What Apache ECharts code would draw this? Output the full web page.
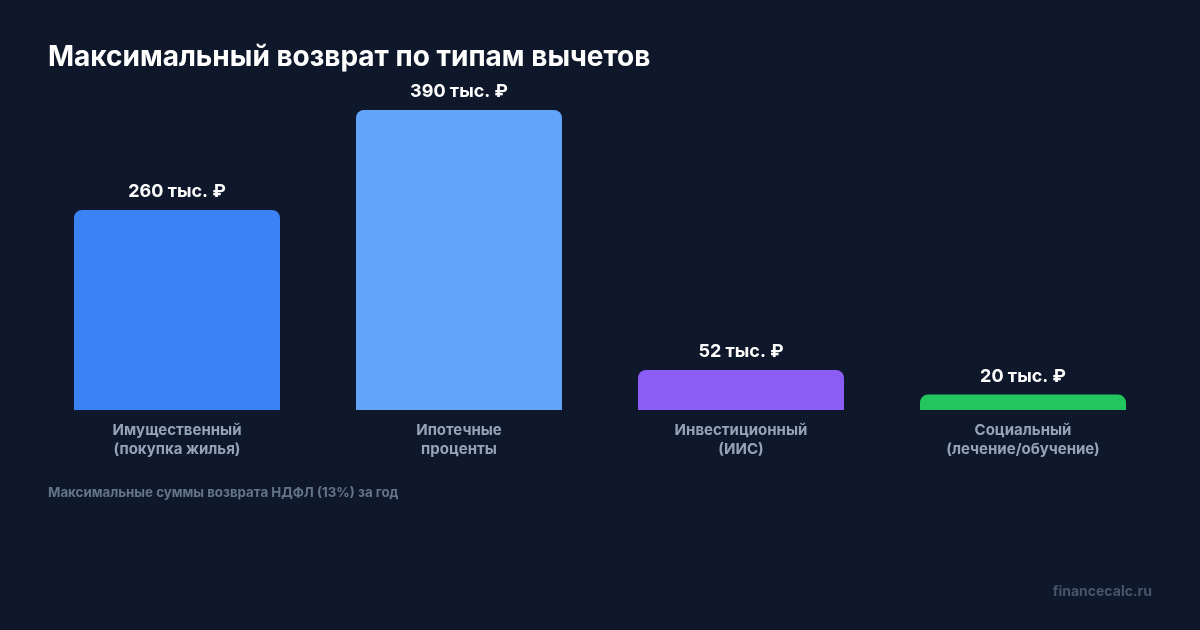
<!DOCTYPE html>
<html><head><meta charset="utf-8">
<script src="https://cdn.jsdelivr.net/npm/echarts@6/dist/echarts.min.js"></script>
<style>html,body{margin:0;padding:0;background:#0f172a}#c{width:1200px;height:630px}</style>
</head><body><div id="c"></div>
<script>
const categories = ['Имущественный\n(покупка жилья)', 'Ипотечные\nпроценты', 'Инвестиционный\n(ИИС)', 'Социальный\n(лечение/обучение)'];
const values = [260, 390, 52, 20];
const valueLabels = ['260 тыс. ₽', '390 тыс. ₽', '52 тыс. ₽', '20 тыс. ₽'];
const colors = ['#3b82f6', '#60a5fa', '#8b5cf6', '#22c55e'];

const chart = echarts.init(document.getElementById('c'), null, {renderer: 'canvas'});
chart.setOption({
  backgroundColor: '#0f172a',
  textStyle: {fontFamily: 'Inter'},
  title: [
    {text: 'Максимальный возврат по типам вычетов', left: 43, top: 39,
     textStyle: {color: '#ffffff', fontSize: 28, fontWeight: 'bold', fontFamily: 'Inter'}},
    {text: 'Максимальные суммы возврата НДФЛ (13%) за год', left: 43, top: 481,
     textStyle: {color: '#64748b', fontSize: 13.3, fontWeight: 'bold', fontFamily: 'Inter'}},
    {text: 'financecalc.ru', right: 43, top: 580,
     textStyle: {color: '#475569', fontSize: 14, fontWeight: 'bold', fontFamily: 'Inter'}}
  ],
  grid: {left: 36, right: 36, top: 110, bottom: 220},
  xAxis: {
    type: 'category', data: categories,
    axisLine: {show: false}, axisTick: {show: false},
    axisLabel: {color: '#94a3b8', fontSize: 15, fontWeight: 'bold', lineHeight: 19, margin: 11, fontFamily: 'Inter'}
  },
  yAxis: {type: 'value', min: 0, max: 390, show: false, splitLine: {show: false}},
  series: [{
    type: 'bar', barWidth: 206,
    data: values.map((v, i) => ({value: v, itemStyle: {color: colors[i], borderRadius: [8, 8, 0, 0]}})),
    label: {show: true, position: 'top', distance: 9, color: '#ffffff', fontSize: 18, fontWeight: 'bold', fontFamily: 'Inter',
      formatter: p => valueLabels[p.dataIndex]}
  }]
});
</script></body></html>
